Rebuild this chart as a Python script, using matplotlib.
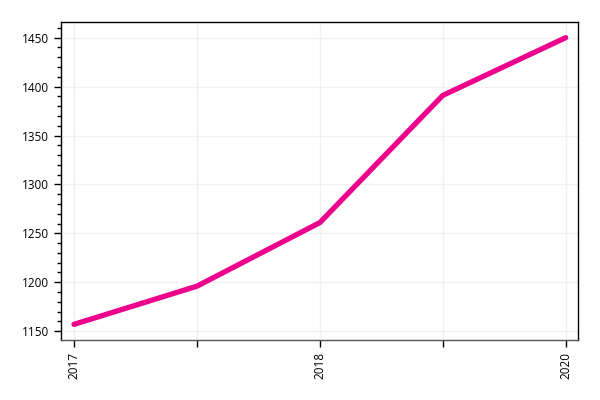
# Linienverlauf 2017-2020

import matplotlib
matplotlib.use('Agg')
import matplotlib.pyplot as plt
from matplotlib.ticker import MultipleLocator

# Daten
x_labels = ['2017', '', '2018', '', '2020']
werte = [1157, 1196, 1261, 1391, 1450]

plt.rcParams['font.family'] = ['Open Sans', 'DejaVu Sans']

fig = plt.figure(figsize=(6, 4), dpi=100)
ax = fig.add_axes([61 / 600, 60 / 400, 517 / 600, 318 / 400])

positionen = list(range(len(werte)))
ax.plot(positionen, werte, color='#ec008c', linewidth=3.8, solid_capstyle='round', solid_joinstyle='round', zorder=3)

ax.set_xlim(-0.106, 4.1)
ax.set_ylim(1141, 1466)
ax.set_xticks(positionen)
ax.set_xticklabels(x_labels, rotation=90, fontsize=8.5)
ax.yaxis.set_major_locator(MultipleLocator(50))
ax.yaxis.set_minor_locator(MultipleLocator(10))
ax.tick_params(axis='y', labelsize=8.5, length=5, width=1)
ax.tick_params(axis='y', which='minor', length=3, width=1)
ax.tick_params(axis='x', length=5, width=1, labelsize=8.5)

# Gitter
ax.grid(True, which='major', color='#f0f0f0', linewidth=1)
ax.set_axisbelow(True)

for s in ax.spines.values():
    s.set_linewidth(1)
ax.spines['bottom'].set_color('#555555')

fig.savefig('out.png', dpi=100)
